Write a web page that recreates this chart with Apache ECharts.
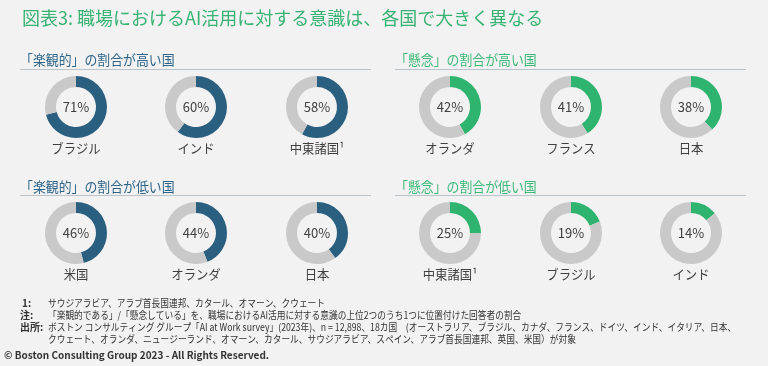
<!DOCTYPE html>
<html>
<head>
<meta charset="utf-8">
<script src="https://cdn.jsdelivr.net/npm/echarts@6/dist/echarts.min.js"></script>
<style>
html,body{margin:0;padding:0;background:#f2f2f2;}
#chart{width:768px;height:366px;}
</style>
</head>
<body>
<div id="chart"></div>
<script>
// ---- Data ----
const titleText = '図表3: 職場におけるAI活用に対する意識は、各国で大きく異なる';
const sectionTitles = ['「楽観的」の割合が高い国', '「懸念」の割合が高い国', '「楽観的」の割合が低い国', '「懸念」の割合が低い国'];
const highOptNames = ['ブラジル', 'インド', '中東諸国¹'];
const highOptValues = [71, 60, 58];
const highConNames = ['オランダ', 'フランス', '日本'];
const highConValues = [42, 41, 38];
const lowOptNames = ['米国', 'オランダ', '日本'];
const lowOptValues = [46, 44, 40];
const lowConNames = ['中東諸国¹', 'ブラジル', 'インド'];
const lowConValues = [25, 19, 14];
const noteLabels = ['1:', '注:', '出所:'];
const noteLines = [
  'サウジアラビア、アラブ首長国連邦、カタール、オマーン、クウェート',
  '「楽観的である」/「懸念している」を、職場におけるAI活用に対する意識の上位2つのうち1つに位置付けた回答者の割合',
  'ボストン コンサルティング グループ「AI at Work survey」(2023年)、n = 12,898、18カ国　(オーストラリア、ブラジル、カナダ、フランス、ドイツ、インド、イタリア、日本、',
  'クウェート、オランダ、ニュージーランド、オマーン、カタール、サウジアラビア、スペイン、アラブ首長国連邦、英国、米国）が対象'
];
const copyrightText = '© Boston Consulting Group 2023 - All Rights Reserved.';

// ---- Style / layout ----
const FONT = '"Noto Sans CJK JP", "Noto Sans", sans-serif';
const BLUE = '#2b5f80';
const GREEN = '#2eb46e';
const GRAY = '#c9c9c9';
const TEXT = '#404040';

const panels = [
  {names: highOptNames, values: highOptValues, color: BLUE, xs: [76, 196, 317], cy: 107, title: sectionTitles[0], tColor: '#2d6487', tx: 20, lineX: [20, 371], ty: 60, ly: 69.5},
  {names: highConNames, values: highConValues, color: GREEN, xs: [450, 571, 691], cy: 107, title: sectionTitles[1], tColor: '#3cb878', tx: 395, lineX: [395, 746], ty: 60, ly: 69.5},
  {names: lowOptNames, values: lowOptValues, color: BLUE, xs: [76, 196, 317], cy: 233, title: sectionTitles[2], tColor: '#2d6487', tx: 20, lineX: [20, 371], ty: 187, ly: 195.5},
  {names: lowConNames, values: lowConValues, color: GREEN, xs: [450, 571, 691], cy: 233, title: sectionTitles[3], tColor: '#3cb878', tx: 395, lineX: [395, 746], ty: 187, ly: 195.5}
];

const series = [];
const graphic = [];

graphic.push({type: 'text', left: 22, top: 9, style: {text: titleText, font: '18px ' + FONT, fill: '#36b272'}});

panels.forEach(p => {
  graphic.push({type: 'text', x: p.tx, y: p.ty, scaleX: 0.92, style: {text: p.title, font: '14px ' + FONT, fill: p.tColor, textVerticalAlign: 'middle'}});
  graphic.push({type: 'line', shape: {x1: p.lineX[0], y1: p.ly, x2: p.lineX[1], y2: p.ly}, style: {stroke: '#b9c3c9', lineWidth: 1}});
  p.values.forEach((v, i) => {
    series.push({
      type: 'pie', silent: true, animation: false,
      center: [p.xs[i], p.cy], radius: [20, 31],
      startAngle: 90, clockwise: true,
      label: {show: false}, labelLine: {show: false},
      emphasis: {disabled: true},
      data: [
        {value: v, name: p.names[i], itemStyle: {color: p.color},
         label: {show: true, position: 'center', formatter: '{c}%', fontSize: 13, fontFamily: FONT, color: TEXT}},
        {value: 100 - v, name: 'rest', itemStyle: {color: GRAY}}
      ]
    });
    graphic.push({type: 'text', x: p.xs[i], y: p.cy + 41, scaleX: 0.95, style: {text: p.names[i], font: '13px ' + FONT, fill: TEXT, textAlign: 'center', textVerticalAlign: 'middle'}});
  });
});

// footnotes
const noteY = [303, 315, 327, 339];
noteLabels.forEach((t, k) => {
  graphic.push({type: 'text', x: k === 0 ? 22 : 20, y: noteY[k], style: {text: t, font: 'bold 10px ' + FONT, fill: '#333', textVerticalAlign: 'middle'}});
});
noteLines.forEach((t, k) => {
  graphic.push({type: 'text', x: 48, y: noteY[k], scaleX: 0.87, style: {text: t, font: '10px ' + FONT, fill: '#333', textVerticalAlign: 'middle'}});
});
graphic.push({type: 'text', x: 4, y: 355, style: {text: copyrightText, font: 'bold 10px ' + FONT, fill: '#333', textVerticalAlign: 'middle'}});

const chart = echarts.init(document.getElementById('chart'));
chart.setOption({
  backgroundColor: '#f2f2f2',
  animation: false,
  series: series,
  graphic: graphic
});
</script>
</body>
</html>
